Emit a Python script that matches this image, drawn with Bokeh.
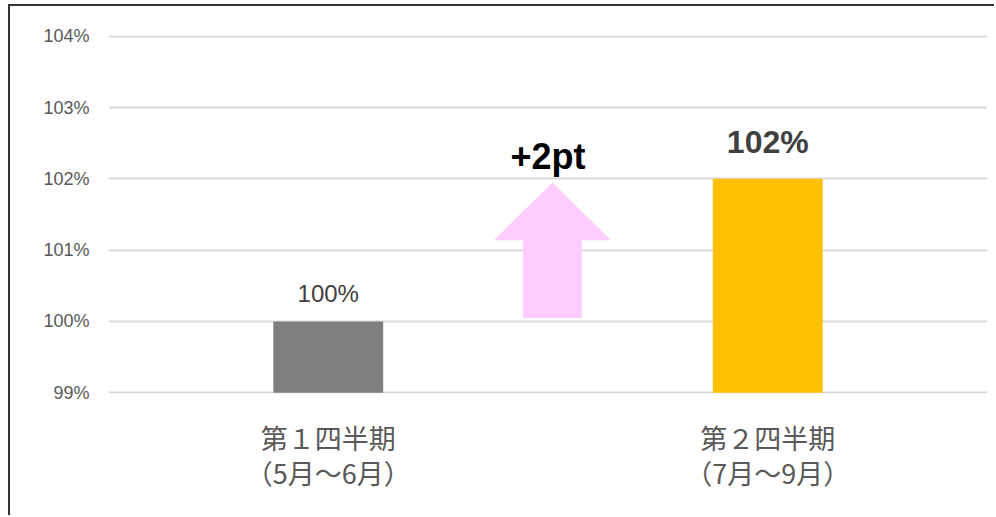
from bokeh.plotting import figure
from bokeh.models import Range1d, FixedTicker
from bokeh.core.properties import value
from bokeh.embed import file_html
from bokeh.resources import INLINE

# ---- data ----
categories = ["第１四半期\n（5月～6月）", "第２四半期\n（7月～9月）"]
values = [100, 102]
value_labels = ["100%", "102%"]
bar_colors = ["#7f7f7f", "#ffc000"]
y_ticks = [99, 100, 101, 102, 103, 104]
y_tick_labels = ["99%", "100%", "101%", "102%", "103%", "104%"]
change_label = "+2pt"

x_pos = [0.5 + i for i in range(len(categories))]

p = figure(width=986, height=511, output_backend="svg", toolbar_location=None,
           x_range=Range1d(0, 2), y_range=Range1d(98.99, 104.01),
           min_border_left=98, min_border_right=9, min_border_top=29, min_border_bottom=124)
p.styles = {"margin-top": "4px", "margin-left": "8px",
            "border-top": "2px solid #333333", "border-left": "2px solid #333333"}
p.outline_line_color = None
p.background_fill_color = "white"
p.border_fill_color = "white"

# bars
p.vbar(x=x_pos, top=values, bottom=y_ticks[0], width=0.25, fill_color=bar_colors, line_color=None)

# arrow between the bars (from first value up to second value)
ax = (x_pos[0] + x_pos[1]) / 2 + 0.01
base = values[0] + 0.05
tip = values[1] - 0.05
head = tip - 0.81
hw, sw = 0.133, 0.067
p.patch(x=[ax - sw, ax + sw, ax + sw, ax + hw, ax, ax - hw, ax - sw, ax - sw],
        y=[base, base, head, head, tip, head, head, base],
        fill_color="#ffccff", line_color=None)

# value labels
p.text(x=x_pos, y=values, text=value_labels, text_align="center", text_baseline="middle",
       y_offset=[-28, -37], text_font=value("Liberation Sans"), text_font_size=["24px", "32px"],
       text_font_style=["normal", "bold"], text_color="#404040")
p.text(x=[ax - 0.01], y=[tip], text=[change_label], text_align="center", text_baseline="middle",
       y_offset=-26, text_font=value("Liberation Sans"), text_font_size="36px",
       text_font_style="bold", text_color="#000000")

# axes
p.yaxis.ticker = FixedTicker(ticks=y_ticks)
p.yaxis.major_label_overrides = {t: l for t, l in zip(y_ticks, y_tick_labels)}
p.yaxis.axis_line_color = None
p.yaxis.major_tick_line_color = None
p.yaxis.minor_tick_line_color = None
p.yaxis.major_label_standoff = 13
p.yaxis.major_label_text_font = "Liberation Sans"
p.yaxis.major_label_text_font_size = "18px"
p.yaxis.major_label_text_color = "#595959"

p.xaxis.ticker = FixedTicker(ticks=x_pos)
p.xaxis.major_label_overrides = {x: c for x, c in zip(x_pos, categories)}
p.xaxis.axis_line_color = None
p.xaxis.major_tick_line_color = None
p.xaxis.minor_tick_line_color = None
p.xaxis.major_label_standoff = 18
p.xaxis.major_label_text_font = "Noto Sans CJK JP"
p.xaxis.major_label_text_font_size = "27px"
p.xaxis.major_label_text_line_height = 0.9
p.xaxis.major_label_text_color = "#595959"

p.xgrid.grid_line_color = None
p.ygrid.ticker = FixedTicker(ticks=y_ticks)
p.ygrid.grid_line_color = "#d9d9d9"
p.ygrid.grid_line_width = 2

open("out.html", "w").write(file_html(p, INLINE))
